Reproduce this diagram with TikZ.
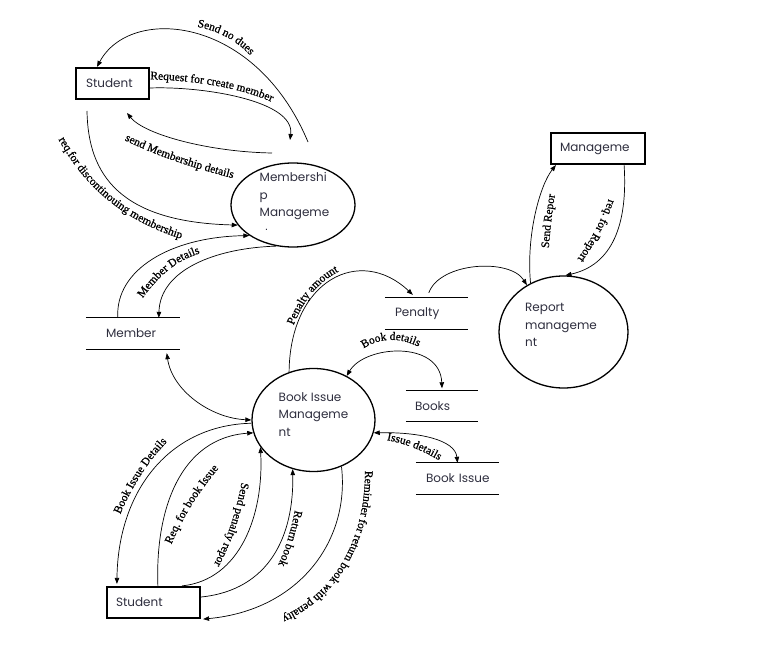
\documentclass[tikz,border=0pt]{standalone}
\usepackage{fontspec}
\setmainfont{Poppins}
\newfontfamily\lblfamily{Liberation Serif}[FakeBold=0.8]
\usetikzlibrary{arrows.meta,decorations.text,shapes.geometric}
\definecolor{txtc}{HTML}{2E2E3E}
\newcommand\bxfont{\fontsize{12}{17.5}\selectfont}
\newcommand\lblsize{\lblfamily\fontsize{11.5}{13}\selectfont}
\tikzset{
  box/.style={draw, line width=2.2pt, minimum height=31pt, inner ysep=0pt, align=left, font=\bxfont, text=txtc, fill=white},
  proc/.style={draw, ellipse, line width=1.3pt, inner sep=0pt},
  ptext/.style={align=left, font=\bxfont, text=txtc, inner sep=0pt},
  store/.style={minimum height=31pt, inner ysep=0pt, align=left, font=\bxfont, text=txtc},
  storeline/.style={line width=0.9pt},
  conn/.style={line width=0.7pt, -{Triangle[length=6pt,width=4.5pt]}},
  conn2/.style={line width=0.7pt, {Triangle[length=6pt,width=4.5pt]}-{Triangle[length=6pt,width=4.5pt]}},
  lbl/.style={decorate, decoration={text along path, text align=center, text={|\lblsize|#1}}}
}
\begin{document}
\begin{tikzpicture}[x=1pt,y=-1pt]
\useasboundingbox (0,0) rectangle (757,663);
% labels
\path[lbl={Send no dues}] (185,25) .. controls (215,28) and (240,40) .. (258,65);
\path[lbl={Request for create member}] (141,79) .. controls (195,80) and (246,88) .. (280,106);
\path[lbl={send Membership details}] (118,137) .. controls (160,158) and (200,170) .. (240,180);
\path[lbl={req.for discontinouing membership}] (55,133) .. controls (79,179) and (115,219) .. (188,241);
\path[lbl={Member Details}] (138,305) .. controls (160,272) and (180,258) .. (208,251);
\path[lbl={Penalty amount}] (290,335) .. controls (302,300) and (318,280) .. (348,267);
\path[lbl={Send Repor}] (548,260) .. controls (550,230) and (552,210) .. (557,183);
\path[lbl={req. for Report}] (611,192) .. controls (604,215) and (592,240) .. (573,265);
\path[lbl={Book details}] (355,355) .. controls (375,337) and (400,334) .. (428,352);
\path[lbl={Issue details}] (380,439) .. controls (400,442) and (420,448) .. (445,464);
\path[lbl={Book Issue Details}] (117,522) .. controls (132,485) and (150,458) .. (173,436);
\path[lbl={Req. for book Issue}] (168,552) .. controls (185,512) and (200,490) .. (224,462);
\path[lbl={Send penalty repor}] (243,474) .. controls (238,505) and (230,535) .. (210,572);
\path[lbl={Return book}] (297,500) .. controls (292,525) and (288,545) .. (274,574);
\path[lbl={Reminder for return book with penalty}] (365,472) .. controls (365,545) and (330,595) .. (283,616);
% external entities
\node[box, text width=53pt, inner xsep=10pt] (stu1) at (112.5,83.5) {Student};
\node[box, text width=76pt, inner xsep=9pt] (mgmt) at (598,148.5) {Manageme};
\node[box, text width=75pt, inner xsep=9pt] (stu2) at (153.5,602.5) {Student};
% data stores
\node[store, text width=63pt, inner xsep=10pt] (pen) at (426.5,313.5) {Penalty};
\node[store, text width=54pt, inner xsep=20pt] (mem) at (133,333.5) {Member};
\node[store, text width=54pt, inner xsep=9pt] (books) at (442,406) {Books};
\node[store, text width=63pt, inner xsep=10pt] (bis) at (457.5,478.5) {\hbox{Book Issue}};
\draw[storeline] (pen.north west) -- (pen.north east) (pen.south west) -- (pen.south east);
\draw[storeline] (mem.north west) -- (mem.north east) (mem.south west) -- (mem.south east);
\draw[storeline] (books.north west) -- (books.north east) (books.south west) -- (books.south east);
\draw[storeline] (bis.north west) -- (bis.north east) (bis.south west) -- (bis.south east);
% processes
\node[proc, minimum width=124pt, minimum height=84pt] (memp) at (293,205) {};
\node[proc, minimum width=123pt, minimum height=103pt] (bim) at (313.5,420) {};
\node[proc, minimum width=129pt, minimum height=112pt] (rep) at (563.5,332) {};
\node[ptext] (memp-t) at (294.5,196.5) {Membershi\\p\\Manageme};
\begin{scope}
\clip (255,221) rectangle (285,229.5);
\node[ptext, anchor=base west] (memp-nt) at (257,237.5) {nt};
\end{scope}
\node[ptext] (bim-t) at (313.5,414.5) {Book Issue\\Manageme\\nt};
\node[ptext] (rep-t) at (561,325) {Report\\manageme\\nt};
% free ends
\coordinate (sndS) at (308,142);
\coordinate (reqE) at (290,140);
\coordinate (smdS) at (272,153);
\coordinate (smdE) at (127,113);
\coordinate (discS) at (87,111);
% connectors
\draw[conn] (sndS) .. controls (255,15) and (130,5) .. ([xshift=-15.5pt]stu1.north);
\draw[conn] ([yshift=-4.5pt]stu1.east) .. controls (200,86) and (295,100) .. (reqE);
\draw[conn] (smdS) .. controls (210,152) and (145,135) .. (smdE);
\draw[conn] (discS) .. controls (88,175) and (120,222) .. (memp.200);
\draw[conn] ([xshift=32pt]mem.north west) .. controls (115,270) and (170,237) .. (memp.215);
\draw[conn] (memp.248) .. controls (215,248) and (160,270) .. ([xshift=73pt]mem.north west);
\draw[conn2] ([xshift=81pt,yshift=-4pt]mem.south west) .. controls (172,390) and (210,418) .. (bim.180);
\draw[conn] (bim.117) .. controls (290,280) and (360,245) .. ([xshift=28pt,yshift=3pt]pen.north west);
\draw[conn] ([xshift=44pt,yshift=5pt]pen.north west) .. controls (440,262) and (510,258) .. (rep.128);
\draw[conn] (rep.124) .. controls (526,235) and (540,185) .. ([xshift=6pt]mgmt.south west);
\draw[conn] ([xshift=-22pt]mgmt.south east) .. controls (628,225) and (612,265) .. (rep.88);
\draw[conn2] (bim.53) .. controls (365,345) and (440,340) .. ([yshift=2pt]books.north);
\draw[conn2] (bim.-12) .. controls (420,432) and (455,440) .. (bis.north);
\draw[conn] (bim.183) .. controls (170,425) and (118,490) .. ([xshift=11pt,yshift=2pt]stu2.north west);
\draw[conn] ([xshift=52pt]stu2.north west) .. controls (155,510) and (180,438) .. (bim.192);
\draw[conn] ([xshift=76pt]stu2.north west) .. controls (240,580) and (264,515) .. (bim.207);
\draw[conn] ([yshift=5.5pt]stu2.east) .. controls (270,590) and (294,535) .. (bim.247);
\draw[conn] (bim.-59) .. controls (350,540) and (300,610) .. ([xshift=2pt]stu2.south east);
\end{tikzpicture}
\end{document}
